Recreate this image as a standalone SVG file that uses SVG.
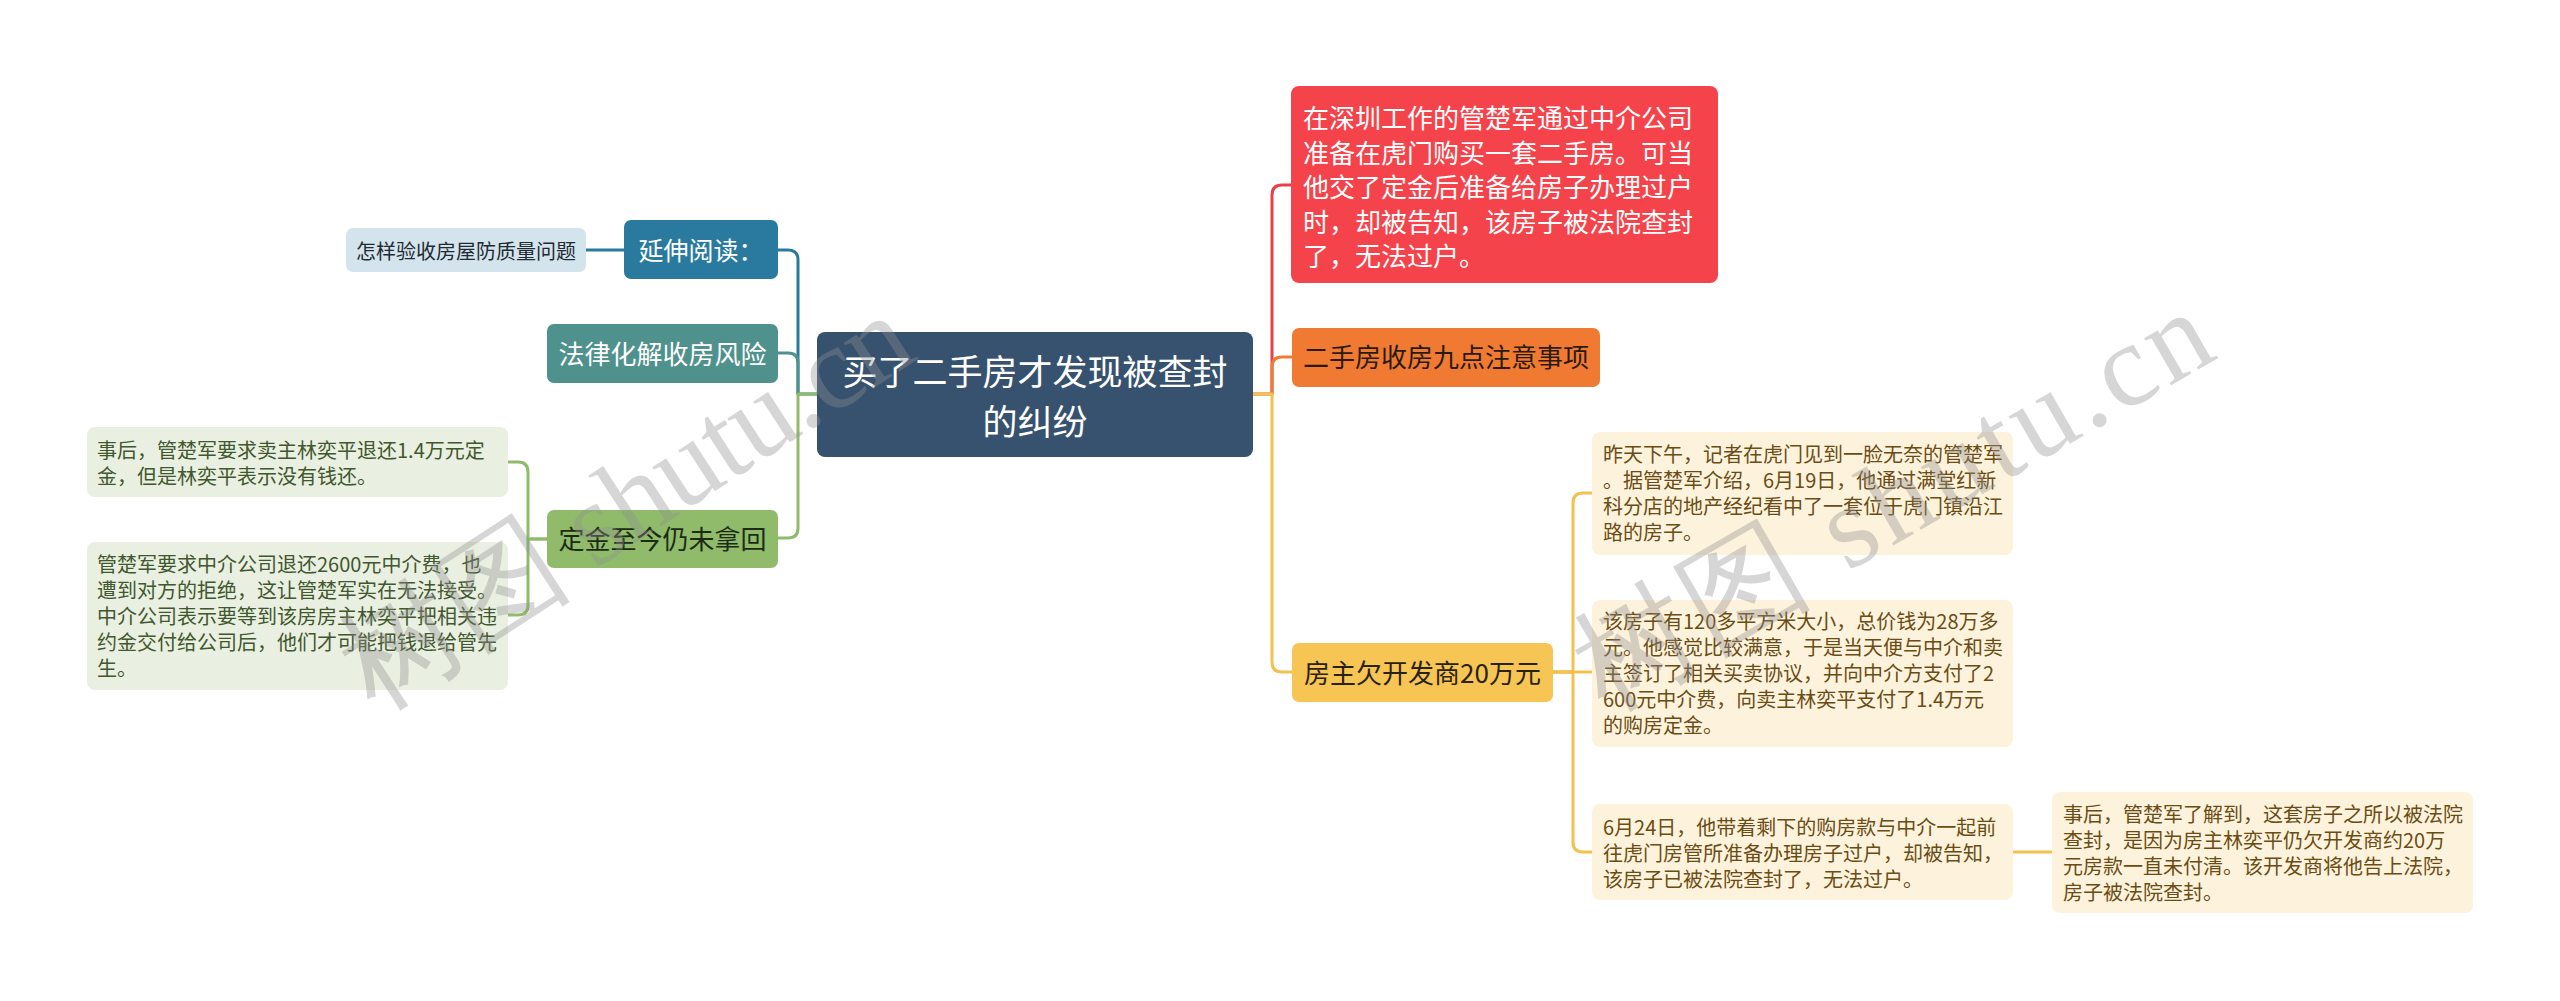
<svg xmlns="http://www.w3.org/2000/svg" width="2560" height="1001" viewBox="0 0 2560 1001">
<style>
text{font-family:"Noto Sans CJK SC","Noto Sans",sans-serif}
.c{fill:none;stroke-width:3;stroke-linecap:round;stroke-linejoin:round}
.t20{font-size:20px}
.t26{font-size:26px}
.mid{text-anchor:middle}
.gtx{fill:#41572d}
.ytx{fill:#6b4c14}
.wm{font-family:"Liberation Serif",serif;font-size:118px;fill:#8f8f8f;opacity:0.36}
</style>
<rect x="0" y="0" width="2560" height="1001" fill="#ffffff"/>
<g id="connectors">
<path class="c" stroke="#2a7aa0" d="M624,250 H586"/>
<path class="c" stroke="#2a7aa0" d="M817,394 H798 V260 Q798,250 788,250 H778"/>
<path class="c" stroke="#4f918c" d="M798,394 V363 Q798,353 788,353 H778"/>
<path class="c" stroke="#8fbb6b" d="M817,394 H798 V528 Q798,538 788,538 H778"/>
<path class="c" stroke="#8fbb6b" d="M547,539 H528 V472 Q528,462 518,462 H508"/>
<path class="c" stroke="#8fbb6b" d="M547,539 H528 V605 Q528,615 518,615 H508"/>
<path class="c" stroke="#e8414a" d="M1253,394 H1272 V195 Q1272,185 1282,185 H1291"/>
<path class="c" stroke="#ef7a32" d="M1272,394 V367 Q1272,357 1282,357 H1292"/>
<path class="c" stroke="#f2c14e" d="M1253,394 H1272 V662 Q1272,672 1282,672 H1292"/>
<path class="c" stroke="#f2c14e" d="M1553,672 H1573 V503 Q1573,493 1583,493 H1592"/>
<path class="c" stroke="#f2c14e" d="M1553,672 H1592"/>
<path class="c" stroke="#f2c14e" d="M1553,672 H1573 V842 Q1573,852 1583,852 H1592"/>
<path class="c" stroke="#f2c14e" d="M2013,852 H2052"/>
</g>
<g id="center">
<rect x="817" y="332" width="436" height="125" rx="8" fill="#36526f"/>
<text x="1035" y="385" font-size="35" fill="#ffffff" class="mid">买了二手房才发现被查封</text>
<text x="1035" y="435" font-size="35" fill="#ffffff" class="mid">的纠纷</text>
</g>
<g id="n-yanshen">
<rect x="624" y="220" width="154" height="59" rx="7" fill="#2a7aa0"/>
<text x="701" y="260" font-size="25" fill="#ffffff" class="mid">延伸阅读：</text>
</g>
<g id="n-zenyang">
<rect x="346" y="228" width="240" height="44" rx="7" fill="#d4e4ed"/>
<text x="466" y="259" class="t20 mid" fill="#1f2a33">怎样验收房屋防质量问题</text>
</g>
<g id="n-falv">
<rect x="547" y="324" width="231" height="59" rx="7" fill="#4f918c"/>
<text x="662.5" y="364" class="t26 mid" fill="#ffffff">法律化解收房风险</text>
</g>
<g id="n-dingjin">
<rect x="547" y="510" width="231" height="58" rx="7" fill="#8fbb6b"/>
<text x="662.5" y="549" class="t26 mid" fill="#1e2b14">定金至今仍未拿回</text>
</g>
<g id="n-dj1">
<rect x="87" y="427" width="421" height="70" rx="8" fill="#e9f0e1"/>
<text class="t20 gtx" x="97"><tspan x="97" y="458">事后，管楚军要求卖主林奕平退还1.4万元定</tspan><tspan x="97" y="484">金，但是林奕平表示没有钱还。</tspan></text>
</g>
<g id="n-dj2">
<rect x="87" y="542" width="421" height="148" rx="8" fill="#e9f0e1"/>
<text class="t20 gtx" x="97"><tspan x="97" y="572">管楚军要求中介公司退还2600元中介费，也</tspan><tspan x="97" y="598">遭到对方的拒绝，这让管楚军实在无法接受。</tspan><tspan x="97" y="624">中介公司表示要等到该房房主林奕平把相关违</tspan><tspan x="97" y="650">约金交付给公司后，他们才可能把钱退给管先</tspan><tspan x="97" y="676">生。</tspan></text>
</g>
<g id="n-red">
<rect x="1291" y="86" width="427" height="197" rx="8" fill="#f4434a"/>
<text class="t26" fill="#ffffff"><tspan x="1303" y="128">在深圳工作的管楚军通过中介公司</tspan><tspan x="1303" y="162.5">准备在虎门购买一套二手房。可当</tspan><tspan x="1303" y="197">他交了定金后准备给房子办理过户</tspan><tspan x="1303" y="231.5">时，却被告知，该房子被法院查封</tspan><tspan x="1303" y="266">了，无法过户。</tspan></text>
</g>
<g id="n-orange">
<rect x="1292" y="328" width="308" height="59" rx="7" fill="#f07a32"/>
<text x="1446" y="367" class="t26 mid" fill="#2a1a0c">二手房收房九点注意事项</text>
</g>
<g id="n-yellow">
<rect x="1292" y="643" width="261" height="59" rx="7" fill="#f6c554"/>
<text x="1422.5" y="683" class="t26 mid" fill="#2a2210">房主欠开发商20万元</text>
</g>
<g id="n-y1">
<rect x="1592" y="432" width="421" height="123" rx="8" fill="#fdf3dc"/>
<text class="t20 ytx"><tspan x="1603" y="462">昨天下午，记者在虎门见到一脸无奈的管楚军</tspan><tspan x="1603" y="488">。据管楚军介绍，6月19日，他通过满堂红新</tspan><tspan x="1603" y="514">科分店的地产经纪看中了一套位于虎门镇沿江</tspan><tspan x="1603" y="540">路的房子。</tspan></text>
</g>
<g id="n-y2">
<rect x="1592" y="600" width="421" height="147" rx="8" fill="#fdf3dc"/>
<text class="t20 ytx"><tspan x="1603" y="629">该房子有120多平方米大小，总价钱为28万多</tspan><tspan x="1603" y="655">元。他感觉比较满意，于是当天便与中介和卖</tspan><tspan x="1603" y="681">主签订了相关买卖协议，并向中介方支付了2</tspan><tspan x="1603" y="707">600元中介费，向卖主林奕平支付了1.4万元</tspan><tspan x="1603" y="733">的购房定金。</tspan></text>
</g>
<g id="n-y3">
<rect x="1592" y="804" width="421" height="96" rx="8" fill="#fdf3dc"/>
<text class="t20 ytx"><tspan x="1603" y="835">6月24日，他带着剩下的购房款与中介一起前</tspan><tspan x="1603" y="861">往虎门房管所准备办理房子过户，却被告知，</tspan><tspan x="1603" y="887">该房子已被法院查封了，无法过户。</tspan></text>
</g>
<g id="n-y4">
<rect x="2052" y="792" width="421" height="121" rx="8" fill="#fdf3dc"/>
<text class="t20 ytx"><tspan x="2063" y="822">事后，管楚军了解到，这套房子之所以被法院</tspan><tspan x="2063" y="848">查封，是因为房主林奕平仍欠开发商约20万</tspan><tspan x="2063" y="874">元房款一直未付清。该开发商将他告上法院，</tspan><tspan x="2063" y="900">房子被法院查封。</tspan></text>
</g>
<g id="watermark">
<text class="wm" transform="translate(375,712) rotate(-33)" textLength="650" lengthAdjust="spacing">树图 shutu.cn</text>
<text class="wm" transform="translate(1605,712) rotate(-30)" textLength="710" lengthAdjust="spacing">树图 shutu.cn</text>
</g>
</svg>
